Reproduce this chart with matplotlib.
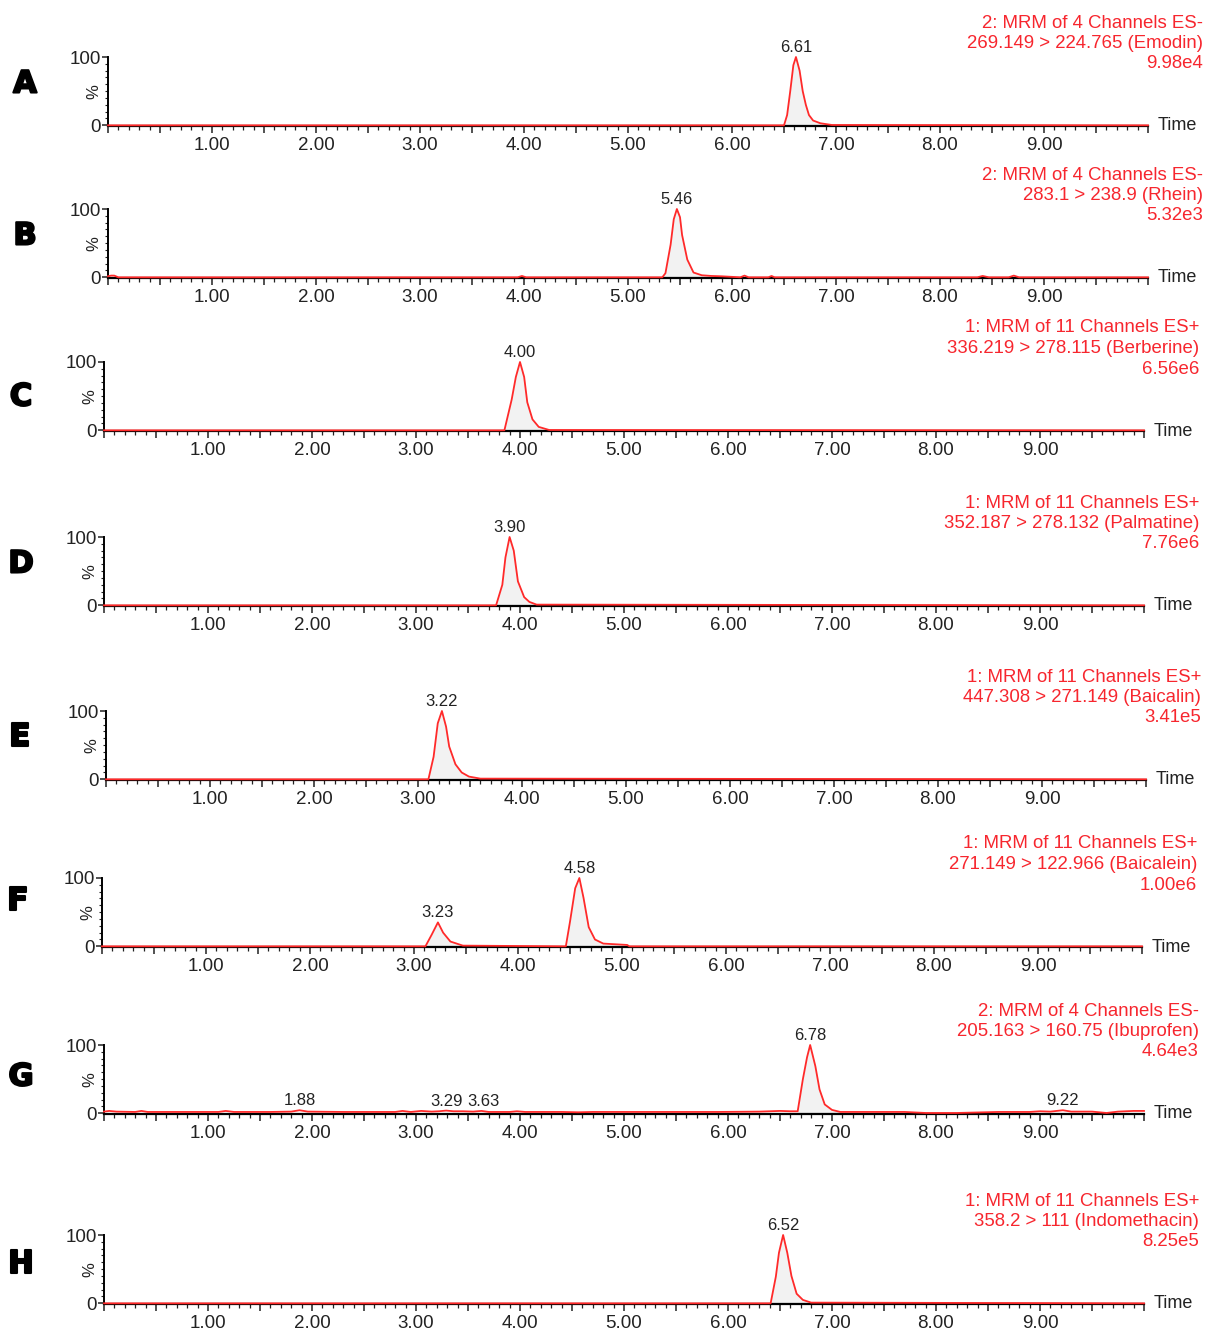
import matplotlib
matplotlib.use("Agg")
import matplotlib.pyplot as plt
import matplotlib.patheffects as pe
from matplotlib.ticker import MultipleLocator, FuncFormatter
import numpy as np

plt.rcParams['font.family'] = ['Liberation Sans', 'DejaVu Sans']

# ---- data (time in min, intensity in %) ----
panel_letters = ["A", "B", "C", "D", "E", "F", "G", "H"]

headers = [
    ("2: MRM of 4 Channels ES-", "269.149 > 224.765 (Emodin)", "9.98e4"),
    ("2: MRM of 4 Channels ES-", "283.1 > 238.9 (Rhein)", "5.32e3"),
    ("1: MRM of 11 Channels ES+", "336.219 > 278.115 (Berberine)", "6.56e6"),
    ("1: MRM of 11 Channels ES+", "352.187 > 278.132 (Palmatine)", "7.76e6"),
    ("1: MRM of 11 Channels ES+", "447.308 > 271.149 (Baicalin)", "3.41e5"),
    ("1: MRM of 11 Channels ES+", "271.149 > 122.966 (Baicalein)", "1.00e6"),
    ("2: MRM of 4 Channels ES-", "205.163 > 160.75 (Ibuprofen)", "4.64e3"),
    ("1: MRM of 11 Channels ES+", "358.2 > 111 (Indomethacin)", "8.25e5"),
]

a_t = [0.0, 6.50, 6.53, 6.56, 6.59, 6.615, 6.65, 6.68, 6.71, 6.74, 6.78, 6.85, 6.96, 10.0]
a_v = [0, 0, 15, 50, 88, 100, 80, 50, 30, 15, 7, 3, 0.5, 0]

b_t = [0.0, 0.03, 0.06, 0.10, 3.94, 3.98, 4.02, 5.33, 5.36, 5.41, 5.44, 5.47, 5.50, 5.52,
       5.57, 5.63, 5.71, 5.80, 5.90, 6.08, 6.12, 6.16, 6.35, 6.38, 6.41, 8.36, 8.41, 8.47,
       8.66, 8.71, 8.76, 10.0]
b_v = [1.5, 2.5, 2.5, 0, 0, 2, 0, 0, 6, 48, 85, 100, 88, 62,
       26, 7, 3, 2, 1.5, 0, 2.5, 0, 0, 2, 0, 0, 2, 0,
       0, 2.5, 0, 0]

c_t = [0.0, 3.85, 3.92, 3.96, 4.00, 4.04, 4.07, 4.12, 4.18, 4.28, 10.0]
c_v = [0, 0, 45, 78, 100, 78, 41, 16, 5, 0.5, 0]

d_t = [0.0, 3.77, 3.83, 3.86, 3.90, 3.94, 3.98, 4.04, 4.09, 4.16, 10.0]
d_v = [0, 0, 30, 70, 100, 80, 35, 12, 5, 1, 0]

e_t = [0.0, 3.10, 3.15, 3.19, 3.23, 3.27, 3.30, 3.36, 3.42, 3.49, 3.60, 10.0]
e_v = [0, 0, 33, 82, 100, 77, 48, 22, 10, 4, 1, 0]

f_t = [0.0, 3.11, 3.17, 3.23, 3.28, 3.35, 3.47, 4.46, 4.50, 4.55, 4.59, 4.63, 4.68,
       4.74, 4.82, 5.05, 5.07, 10.0]
f_v = [0, 0, 17, 35, 20, 7, 1, 0, 36, 85, 100, 71, 28,
       10, 4, 2, 0, 0]

g_t = [0.0, 0.05, 0.12, 0.3, 0.36, 0.42, 0.8, 1.1, 1.17, 1.25, 1.6, 1.8, 1.88, 1.96,
       2.3, 2.8, 2.87, 2.95, 3.05, 3.15, 3.22, 3.29, 3.36, 3.45, 3.55, 3.63, 3.70, 3.9,
       3.97, 4.05, 4.4, 4.56, 4.7, 5.0, 5.5, 5.9, 6.3, 6.5, 6.6, 6.67, 6.72, 6.76, 6.79,
       6.84, 6.88, 6.93, 7.00, 7.08, 7.3, 7.7, 7.9, 8.2, 8.6, 8.9, 9.0, 9.1, 9.22, 9.3,
       9.5, 9.64, 9.75, 9.9, 10.0]
g_v = [2.5, 3.5, 2.5, 2, 3.5, 2, 2, 2, 3.5, 2, 2, 2.5, 4.5, 2.5,
       2, 2, 3.5, 2, 3.5, 2.5, 3, 4, 3, 3, 2.5, 3.5, 2, 2,
       3, 2, 2, 1.5, 2, 2, 2, 2, 2.5, 3.5, 3, 3, 50, 82, 100,
       69, 35, 13, 5, 2, 2, 2, 0.5, 0.5, 2, 2, 3, 2.5, 4.5, 2.5,
       2.5, 0.5, 2.5, 3.5, 3.5]

h_t = [0.0, 6.41, 6.46, 6.49, 6.53, 6.57, 6.61, 6.66, 6.72, 6.80, 10.0]
h_v = [0, 0, 39, 74, 100, 74, 40, 14, 5, 1, 0]

traces_t = [a_t, b_t, c_t, d_t, e_t, f_t, g_t, h_t]
traces_v = [a_v, b_v, c_v, d_v, e_v, f_v, g_v, h_v]

# labelled peaks: (retention time label, position)
peak_labels = [
    [("6.61", 6.615)],
    [("5.46", 5.47)],
    [("4.00", 4.00)],
    [("3.90", 3.90)],
    [("3.22", 3.23)],
    [("3.23", 3.23), ("4.58", 4.59)],
    [("1.88", 1.88), ("3.29", 3.29), ("3.63", 3.65), ("6.78", 6.79), ("9.22", 9.22)],
    [("6.52", 6.53)],
]

# integrated peak windows (start, end)
peak_windows = [
    [(6.50, 6.96)],
    [(5.33, 5.90)],
    [(3.85, 4.28)],
    [(3.77, 4.16)],
    [(3.10, 3.60)],
    [(3.11, 3.47), (4.46, 5.05)],
    [(6.67, 7.08)],
    [(6.41, 6.80)],
]

# ---- layout (pixels) ----
W, H = 1205, 1332
ax_left = [108, 108, 104, 104, 106, 102, 104, 104]
ax_zero = [126, 278, 431, 606, 780, 947, 1114, 1304]
ax_width = 1040
ax_height = 69
letter_y = [84, 236, 397, 564, 737, 901, 1077, 1264]
letter_x = [25, 25, 21, 21, 20, 18, 21, 21]

red = '#ff2a2a'
txt_red = '#f7262e'
dark = '#222222'

fig = plt.figure(figsize=(W / 100, H / 100), dpi=100)


def xfmt(v, pos):
    if abs(v - round(v)) < 1e-6 and 1 <= round(v) <= 9:
        return "%.2f" % v
    return ""


for i in range(8):
    ax = fig.add_axes([ax_left[i] / W, 1 - ax_zero[i] / H, ax_width / W, ax_height / H])
    t = np.array(traces_t[i])
    v = np.array(traces_v[i])

    for (s, e) in peak_windows[i]:
        m = (t >= s) & (t <= e)
        ax.fill_between(t[m], 0, v[m], color='#f2f2f2', lw=0, zorder=1)
        ax.plot([s, e], [0.3, 0.3], color='#888888', lw=0.8, zorder=2)

    ax.plot(t, v, color=red, lw=1.3, zorder=4, clip_on=False)

    for lab, pt in peak_labels[i]:
        yv = np.interp(pt, t, v)
        ax.annotate(lab, (pt, yv), xytext=(0, 2), textcoords='offset pixels',
                    ha='center', va='bottom', fontsize=12, color=dark)

    ax.set_xlim(0, 10)
    ax.set_ylim(-1, 100)
    for s in ['top', 'right']:
        ax.spines[s].set_visible(False)
    ax.spines['left'].set_linewidth(1.4)
    ax.spines['bottom'].set_linewidth(1.6)
    ax.spines['bottom'].set_zorder(3)
    ax.set_facecolor('none')

    ax.xaxis.set_major_locator(MultipleLocator(0.5))
    ax.xaxis.set_minor_locator(MultipleLocator(0.1))
    ax.xaxis.set_major_formatter(FuncFormatter(xfmt))
    ax.tick_params(axis='x', which='major', direction='out', length=5, width=1.1,
                   labelsize=13.5, pad=3, colors=dark)
    ax.tick_params(axis='x', which='minor', direction='out', length=3, width=0.9, colors=dark)

    ax.set_yticks([0, 100])
    ax.set_yticklabels(['0', '100'])
    ax.yaxis.set_minor_locator(MultipleLocator(10))
    ax.tick_params(axis='y', which='major', direction='out', length=4, width=1.1,
                   labelsize=13.5, pad=1, colors=dark)
    ax.tick_params(axis='y', which='minor', direction='out', length=2.5, width=0.8, colors=dark)
    ax.text(-0.006, 0.5, "%", transform=ax.transAxes, rotation=90, ha='right',
            va='center', fontsize=12, color=dark)

    ax.annotate("Time", (1, 0), xycoords='axes fraction', xytext=(10, 0),
                textcoords='offset pixels', ha='left', va='center', fontsize=13, color=dark)

    for k, line in enumerate(headers[i]):
        ax.annotate(line, (1, 1), xycoords='axes fraction',
                    xytext=(55, 34 - 20.5 * k), textcoords='offset pixels',
                    ha='right', va='center', fontsize=13.4, color=txt_red)

    fig.text(letter_x[i] / W, 1 - letter_y[i] / H, panel_letters[i], ha='center', va='center',
             fontsize=22, fontweight='bold', color='black', family='DejaVu Sans',
             path_effects=[pe.withStroke(linewidth=1.5, foreground='black')])

fig.savefig("out.png", dpi=100)
